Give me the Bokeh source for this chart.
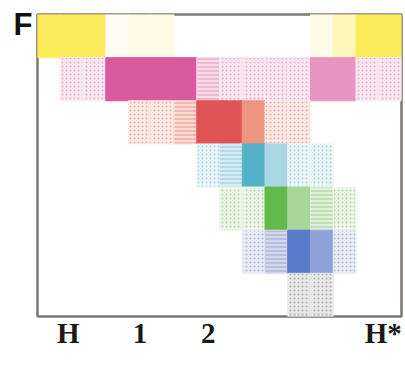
from bokeh.plotting import figure
from bokeh.models import FixedTicker
from bokeh.embed import file_html
from bokeh.resources import INLINE

# ---- data (16 columns, 7 rows from top "F" row to bottom) ----
# intensity level per column: 0 none, 1 light (dotted), 2 striped, 3 medium, 4 strong
row_names = ["yellow", "pink", "red", "cyan", "green", "blue", "gray"]
yellow = [4, 4, 4, 1, 2, 2, 0, 0, 0, 0, 0, 0, 2, 3, 4, 4]
pink   = [0, 1, 1, 4, 4, 4, 4, 2, 1, 1, 1, 1, 3, 3, 1, 1]
red    = [0, 0, 0, 0, 1, 1, 2, 4, 4, 3, 1, 1, 0, 0, 0, 0]
cyan   = [0, 0, 0, 0, 0, 0, 0, 1, 2, 4, 3, 1, 1, 0, 0, 0]
green  = [0, 0, 0, 0, 0, 0, 0, 0, 1, 1, 4, 3, 2, 1, 0, 0]
blue   = [0, 0, 0, 0, 0, 0, 0, 0, 0, 1, 2, 4, 3, 1, 0, 0]
gray   = [0, 0, 0, 0, 0, 0, 0, 0, 0, 0, 0, 1, 1, 0, 0, 0]
levels = [yellow, pink, red, cyan, green, blue, gray]

tick_pos = [1.35, 4.5, 7.5, 15.2]
tick_labels = ["H", "1", "2", "H*"]
row_label_pos = [6.77]
row_labels = ["F"]

# fill colour per row for levels 1..4
palette = {
    "yellow": ["#fffdf2", "#fffbe6", "#fff6bc", "#fdec5a"],
    "pink":   ["#fbe9f2", "#f7dbe8", "#e993c0", "#da5a9e"],
    "red":    ["#fcebe6", "#f9ddd2", "#ee9580", "#e05456"],
    "cyan":   ["#ebf6f9", "#d8ecf2", "#a8d6e3", "#55b2c9"],
    "green":  ["#eef6ea", "#e0efd9", "#a9d59b", "#63b94c"],
    "blue":   ["#e9ecf5", "#d4d8ea", "#8ea2d9", "#5a7bca"],
    "gray":   ["#e8e8e8", "#d8d8d8", "#a0a0a0", "#808080"],
}
# halftone texture for the light levels
textures = {1: "dot", 2: "horizontal_line"}
dot_colour = {"yellow": "#fdec5a", "pink": "#da5a9e", "red": "#e05456", "cyan": "#55b2c9",
              "green": "#63b94c", "blue": "#5a7bca", "gray": "#707070"}

left, right, bottom, top, colors, hatches, hcolors = [], [], [], [], [], [], []
nrows = len(row_names)
for r, (name, lv) in enumerate(zip(row_names, levels)):
    for c, v in enumerate(lv):
        if v > 0:
            left.append(c)
            right.append(c + 1)
            bottom.append(nrows - 1 - r)
            top.append(nrows - r)
            colors.append(palette[name][v - 1])
            hatches.append(textures.get(v, " ") if name != "yellow" else " ")
            hcolors.append(dot_colour[name])

p = figure(width=405, height=375, x_range=(0, 16), y_range=(0, 7),
           output_backend="svg", toolbar_location=None,
           min_border_left=37, min_border_right=4, min_border_top=14, min_border_bottom=59)
p.background_fill_color = "white"
p.border_fill_color = "white"
p.grid.visible = False
p.outline_line_color = "#7f7771"
p.outline_line_width = 2.5

p.quad(left=left, right=right, bottom=bottom, top=top, fill_color=colors,
       line_color=colors, line_width=1,
       hatch_pattern=hatches, hatch_color=hcolors, hatch_alpha=0.45,
       hatch_scale=4, hatch_weight=1.2)

xa = p.xaxis[0]
xa.ticker = FixedTicker(ticks=tick_pos)
xa.major_label_overrides = {t: s for t, s in zip(tick_pos, tick_labels)}
xa.axis_line_color = None
xa.major_tick_line_color = None
xa.minor_tick_line_color = None
xa.major_tick_out = 0
xa.major_tick_in = 0
xa.major_label_standoff = 0
xa.major_label_text_font = "Liberation Serif"
xa.major_label_text_font_style = "bold"
xa.major_label_text_font_size = "29px"
xa.major_label_text_color = "#1a1a1a"

ya = p.yaxis[0]
ya.ticker = FixedTicker(ticks=row_label_pos)
ya.major_label_overrides = {t: s for t, s in zip(row_label_pos, row_labels)}
ya.axis_line_color = None
ya.major_tick_line_color = None
ya.minor_tick_line_color = None
ya.major_tick_out = 0
ya.major_tick_in = 0
ya.major_label_standoff = 5
ya.major_label_orientation = "horizontal"
ya.major_label_text_font = "Liberation Sans"
ya.major_label_text_font_style = "bold"
ya.major_label_text_font_size = "31px"
ya.major_label_text_color = "#111111"

open("out.html", "w").write(file_html(p, INLINE))
